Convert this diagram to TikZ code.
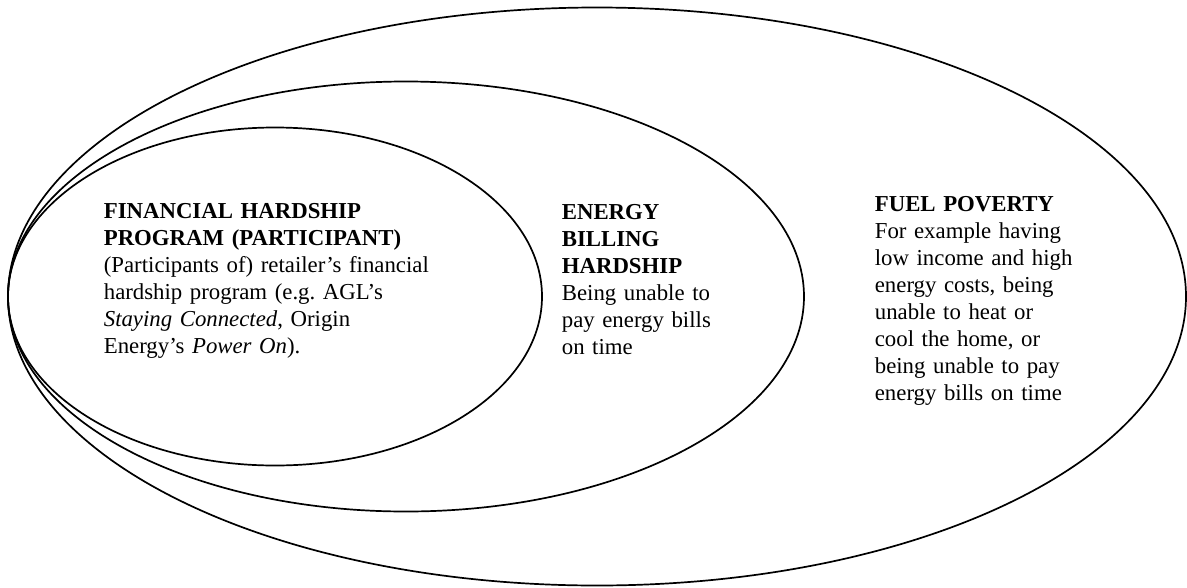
\documentclass[tikz,border=0pt]{standalone}
\usepackage{fontspec}
\setmainfont{Liberation Serif}
\usepackage{tikz}
\newcommand{\lx}{8}
\frenchspacing

\begin{document}
\begin{tikzpicture}[x=1pt,y=-1pt,line width=1.7pt,
  label text/.style={anchor=base west,inner sep=0pt,align=left,
    font=\fontsize{22.8}{27}\selectfont}]
                    \useasboundingbox (0,0) rectangle (1187,587);
                    \coordinate (fuel) at (597,296.5);
                    \coordinate (bill) at (406,296.5);
                    \coordinate (prog) at (275,296.5);
                    \draw (fuel) ellipse [x radius={(597-\lx)*1pt}, y radius=289pt];
                    \draw (bill) ellipse [x radius={(406-\lx)*1pt}, y radius=215pt];
                    \draw (prog) ellipse [x radius={(275-\lx)*1pt}, y radius=169pt];
                    \node[label text,text width=340pt] (progtext) at (103,218) {\textbf{FINANCIAL HARDSHIP}\\
                    \textbf{PROGRAM (PARTICIPANT)}\\
                    (Participants of) retailer’s financial\\
                    hardship program (e.g.\ AGL’s\\
                    \textit{Staying Connected}, Origin\\
                    Energy’s \textit{Power On}).};
                    \node[label text,text width=200pt] (billtext) at (561,219.5) {\textbf{ENERGY}\\
                    \textbf{BILLING}\\
                    \textbf{HARDSHIP}\\
                    Being unable to\\
                    pay energy bills\\
                    on time};
                    \node[label text,text width=260pt] (fueltext) at (874,211) {\textbf{FUEL POVERTY}\\
                    For example having\\
                    low income and high\\
                    energy costs, being\\
                    unable to heat or\\
                    cool the home, or\\
                    being unable to pay\\
                    energy bills on time};
                    \end{tikzpicture}
\end{document}
